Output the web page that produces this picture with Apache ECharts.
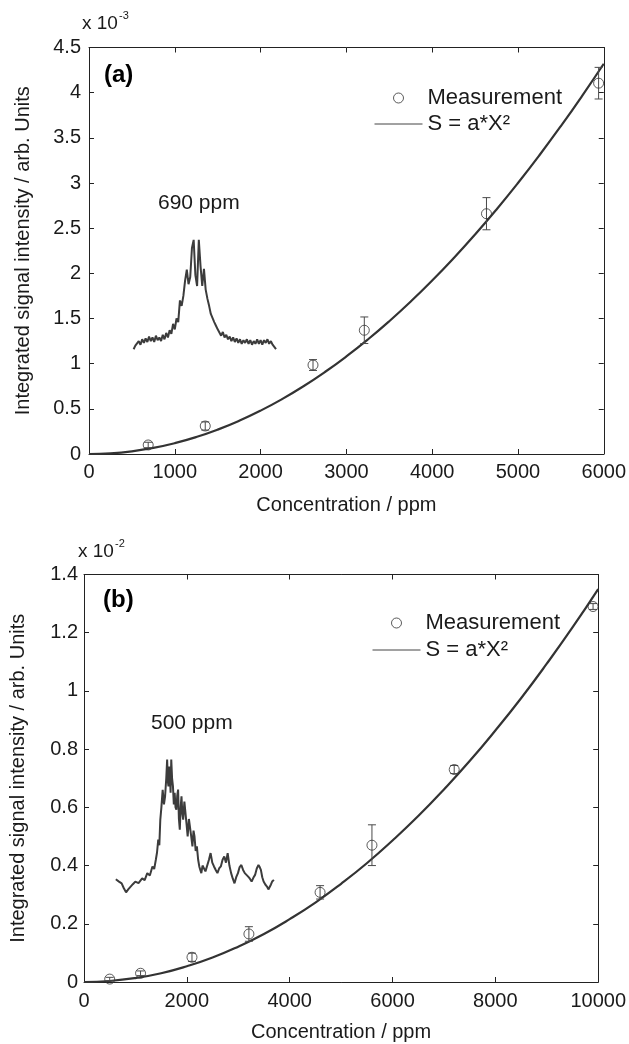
<!DOCTYPE html>
<html>
<head>
<meta charset="utf-8">
<script src="https://cdn.jsdelivr.net/npm/echarts@6/dist/echarts.min.js"></script>
<style>html,body{margin:0;padding:0;background:#fff;}#c{width:629px;height:1044px;}</style>
</head>
<body>
<div id="c"></div>
<script>
// ---------- Panel (a): values in units of 1e-3 ----------
const measA_x = [690, 1355, 2611, 3209, 4633, 5940];
const measA_y = [0.10, 0.31, 0.985, 1.37, 2.66, 4.105];
const measA_err = [0.03, 0.045, 0.06, 0.147, 0.178, 0.175];
const fitA_x = [0, 250, 500, 750, 1000, 1250, 1500, 1750, 2000, 2250, 2500, 2750, 3000, 3250, 3500, 3750, 4000, 4250, 4500, 4750, 5000, 5250, 5500, 5750, 6000];
const fitA_y = [0, 0.0075, 0.03, 0.0675, 0.12, 0.1875, 0.27, 0.3675, 0.48, 0.6075, 0.75, 0.9075, 1.08, 1.2675, 1.47, 1.6875, 1.92, 2.1675, 2.43, 2.7075, 3.0, 3.3075, 3.63, 3.9675, 4.32];
const insetA_x = [520,540,560,580,600,620,640,660,680,700,720,740,760,780,800,820,840,860,880,900,920,940,960,980,1000,1020,1040,1060,1080,1100,1120,1140,1160,1180,1200,1220,1240,1260,1280,1300,1320,1340,1360,1380,1400,1420,1440,1460,1480,1500,1520,1540,1560,1580,1600,1620,1640,1660,1680,1700,1720,1740,1760,1780,1800,1820,1840,1860,1880,1900,1920,1940,1960,1980,2000,2020,2040,2060,2080,2100,2120,2140,2160,2180];
const insetA_y = [1.16,1.20,1.18,1.25,1.21,1.27,1.23,1.28,1.24,1.30,1.25,1.29,1.24,1.31,1.26,1.29,1.25,1.32,1.27,1.34,1.29,1.37,1.33,1.44,1.38,1.50,1.46,1.70,1.64,1.75,1.92,2.04,1.88,1.96,2.28,2.37,1.98,1.86,2.37,2.08,1.86,2.05,1.82,1.72,1.64,1.55,1.57,1.46,1.42,1.38,1.40,1.31,1.35,1.29,1.32,1.27,1.30,1.25,1.29,1.24,1.28,1.23,1.27,1.22,1.26,1.23,1.27,1.22,1.26,1.21,1.25,1.22,1.27,1.22,1.26,1.21,1.26,1.23,1.27,1.22,1.25,1.21,1.23,1.16];

// ---------- Panel (b): values in units of 1e-2 ----------
const measB_x = [500, 1100, 2100, 3207, 4591, 5600, 7200, 9900];
const measB_y = [0.01, 0.03, 0.085, 0.165, 0.308, 0.47, 0.73, 1.29];
const measB_err = [0.006, 0.008, 0.014, 0.025, 0.023, 0.07, 0.014, 0.01];
const fitB_x = [0, 500, 1000, 1500, 2000, 2500, 3000, 3500, 4000, 4500, 5000, 5500, 6000, 6500, 7000, 7500, 8000, 8500, 9000, 9500, 10000];
const fitB_y = [0, 0.0034, 0.0135, 0.030, 0.054, 0.084, 0.1215, 0.165, 0.216, 0.273, 0.3375, 0.408, 0.486, 0.570, 0.6615, 0.759, 0.864, 0.975, 1.0935, 1.218, 1.35];
const insetB_x = [619,680,732,775,818,860,898,950,998,1060,1131,1180,1231,1280,1331,1365,1397,1420,1444,1465,1484,1505,1530,1555,1577,1600,1617,1630,1643,1657,1670,1684,1697,1713,1730,1747,1763,1780,1797,1813,1830,1846,1863,1880,1896,1912,1929,1952,1976,1996,2016,2040,2062,2085,2109,2130,2149,2172,2195,2220,2242,2262,2282,2305,2329,2362,2395,2430,2462,2495,2528,2562,2595,2628,2661,2695,2728,2761,2794,2828,2861,2894,2927,2960,2994,3027,3060,3094,3127,3160,3193,3226,3260,3293,3327,3360,3393,3417,3440,3467,3493,3526,3559,3586,3613,3636,3659,3693];
const insetB_y = [0.353,0.345,0.339,0.322,0.308,0.318,0.322,0.336,0.345,0.340,0.356,0.350,0.374,0.366,0.397,0.388,0.420,0.445,0.489,0.470,0.558,0.600,0.660,0.610,0.638,0.700,0.764,0.690,0.672,0.740,0.718,0.650,0.764,0.700,0.672,0.610,0.650,0.600,0.592,0.640,0.661,0.560,0.523,0.600,0.638,0.580,0.558,0.620,0.615,0.540,0.500,0.560,0.558,0.500,0.466,0.520,0.500,0.450,0.466,0.420,0.397,0.385,0.374,0.400,0.397,0.380,0.374,0.420,0.443,0.410,0.397,0.385,0.374,0.390,0.397,0.420,0.431,0.410,0.443,0.400,0.374,0.355,0.339,0.360,0.374,0.395,0.402,0.385,0.374,0.380,0.362,0.355,0.345,0.358,0.368,0.390,0.402,0.395,0.385,0.360,0.345,0.335,0.328,0.318,0.322,0.335,0.345,0.351];

const FONT = '"Liberation Sans", Arial, sans-serif';
const INK = '#1a1a1a';
const LINE = '#333333';

function zip(a, b, c) { return a.map((v, i) => c ? [v, b[i], c[i]] : [v, b[i]]); }

function renderErr(params, api) {
  const x = api.value(0), y = api.value(1), e = api.value(2);
  const t = api.coord([x, y + e]), b = api.coord([x, y - e]);
  const hw = 4;
  const st = { stroke: '#4a4a4a', lineWidth: 1, fill: null };
  return { type: 'group', children: [
    { type: 'line', shape: { x1: t[0], y1: t[1], x2: b[0], y2: b[1] }, style: st },
    { type: 'line', shape: { x1: t[0] - hw, y1: t[1], x2: t[0] + hw, y2: t[1] }, style: st },
    { type: 'line', shape: { x1: b[0] - hw, y1: b[1], x2: b[0] + hw, y2: b[1] }, style: st }
  ]};
}

function plain(v) { return String(v); }

function mainX(grid, max, interval, labelMargin, nameGap) {
  return {
    type: 'value', gridIndex: grid, min: 0, max: max, interval: interval, position: 'bottom',
    name: 'Concentration / ppm', nameLocation: 'middle', nameGap: nameGap,
    nameTextStyle: { fontFamily: FONT, fontSize: 20, color: INK },
    axisLine: { show: true, onZero: false, lineStyle: { color: '#222', width: 1 } },
    axisTick: { show: true, inside: true, length: 5, lineStyle: { color: '#222' } },
    axisLabel: { fontFamily: FONT, fontSize: 20, color: INK, margin: labelMargin, formatter: plain },
    splitLine: { show: false }
  };
}
function topX(grid, max, interval) {
  return {
    type: 'value', gridIndex: grid, min: 0, max: max, interval: interval, position: 'top',
    axisLine: { show: true, onZero: false, lineStyle: { color: '#222', width: 1 } },
    axisTick: { show: true, inside: true, length: 5, lineStyle: { color: '#222' } },
    axisLabel: { show: false }, splitLine: { show: false }
  };
}
function mainY(grid, max, interval, labelMargin) {
  return {
    type: 'value', gridIndex: grid, min: 0, max: max, interval: interval, position: 'left',
    name: 'Integrated signal intensity / arb. Units', nameLocation: 'middle', nameGap: 56,
    nameTextStyle: { fontFamily: FONT, fontSize: 20, color: INK },
    axisLine: { show: true, onZero: false, lineStyle: { color: '#222', width: 1 } },
    axisTick: { show: true, inside: true, length: 5, lineStyle: { color: '#222' } },
    axisLabel: { fontFamily: FONT, fontSize: 20, color: INK, margin: labelMargin, formatter: plain },
    splitLine: { show: false }
  };
}
function rightY(grid, max, interval) {
  return {
    type: 'value', gridIndex: grid, min: 0, max: max, interval: interval, position: 'right',
    axisLine: { show: true, onZero: false, lineStyle: { color: '#222', width: 1 } },
    axisTick: { show: true, inside: true, length: 5, lineStyle: { color: '#222' } },
    axisLabel: { show: false }, splitLine: { show: false }
  };
}

function panelSeries(xi, yi, inX, inY, fX, fY, mX, mY, mE) {
  return [
    { type: 'line', name: 'spectrum', xAxisIndex: xi, yAxisIndex: yi, data: zip(inX, inY),
      symbol: 'none', lineStyle: { color: '#3c3c3c', width: 2 }, silent: true, z: 2 },
    { type: 'line', name: 'fit', xAxisIndex: xi, yAxisIndex: yi, data: zip(fX, fY),
      symbol: 'none', smooth: true, lineStyle: { color: LINE, width: 2.2 }, itemStyle: { color: LINE }, z: 3 },
    { type: 'custom', name: 'err', xAxisIndex: xi, yAxisIndex: yi, data: zip(mX, mY, mE),
      renderItem: renderErr, z: 4, silent: true },
    { type: 'scatter', name: 'Measurement', xAxisIndex: xi, yAxisIndex: yi, data: zip(mX, mY),
      symbol: 'circle', symbolSize: 10,
      itemStyle: { color: 'rgba(0,0,0,0)', borderColor: '#333', borderWidth: 1 }, z: 5 }
  ];
}

function legendAt(left, top, gap) {
  return {
    orient: 'vertical', left: left, top: top, itemWidth: 48, itemHeight: 10, itemGap: gap,
    selectedMode: false,
    textStyle: { fontFamily: FONT, fontSize: 22, color: INK, lineHeight: 22 },
    formatter: function (n) { return n === 'fit' ? 'S = a*X\u00b2' : n; },
    data: [
      { name: 'Measurement', icon: 'circle', itemStyle: { color: 'rgba(0,0,0,0)', borderColor: '#333', borderWidth: 1 } },
      { name: 'fit', itemStyle: { color: 'rgba(0,0,0,0)', borderWidth: 0, opacity: 0 }, lineStyle: { width: 1, color: '#444', opacity: 1 } }
    ]
  };
}

const chart = echarts.init(document.getElementById('c'), null, { renderer: 'canvas' });
chart.setOption({
  animation: false,
  backgroundColor: '#fff',
  grid: [
    { left: 89, right: 22.5, top: 47.5, bottom: 590, containLabel: false },
    { left: 84, right: 27, top: 574.5, bottom: 62, containLabel: false }
  ],
  xAxis: [mainX(0, 6000, 1000, 8, 41), topX(0, 6000, 1000), mainX(1, 10000, 2000, 9, 40), topX(1, 10000, 2000)],
  yAxis: [mainY(0, 4.5, 0.5, 8), rightY(0, 4.5, 0.5), mainY(1, 1.4, 0.2, 6), rightY(1, 1.4, 0.2)],
  legend: [legendAt(369, 82, 4), legendAt(367, 607, 5)],
  series: [].concat(
    panelSeries(0, 0, insetA_x, insetA_y, fitA_x, fitA_y, measA_x, measA_y, measA_err),
    panelSeries(2, 2, insetB_x, insetB_y, fitB_x, fitB_y, measB_x, measB_y, measB_err)
  ),
  graphic: [
    { type: 'text', left: 82, top: 14, style: { text: 'x 10', font: '19px ' + FONT, fill: INK } },
    { type: 'text', left: 119, top: 10, style: { text: '-3', font: '11px ' + FONT, fill: INK } },
    { type: 'text', left: 104, top: 63, style: { text: '(a)', font: 'bold 24px ' + FONT, fill: '#000' } },
    { type: 'text', left: 158, top: 193, style: { text: '690 ppm', font: '21px ' + FONT, fill: INK } },
    { type: 'text', left: 78, top: 542, style: { text: 'x 10', font: '19px ' + FONT, fill: INK } },
    { type: 'text', left: 115, top: 538, style: { text: '-2', font: '11px ' + FONT, fill: INK } },
    { type: 'text', left: 103, top: 588, style: { text: '(b)', font: 'bold 24px ' + FONT, fill: '#000' } },
    { type: 'text', left: 151, top: 713, style: { text: '500 ppm', font: '21px ' + FONT, fill: INK } }
  ]
});
</script>
</body>
</html>
